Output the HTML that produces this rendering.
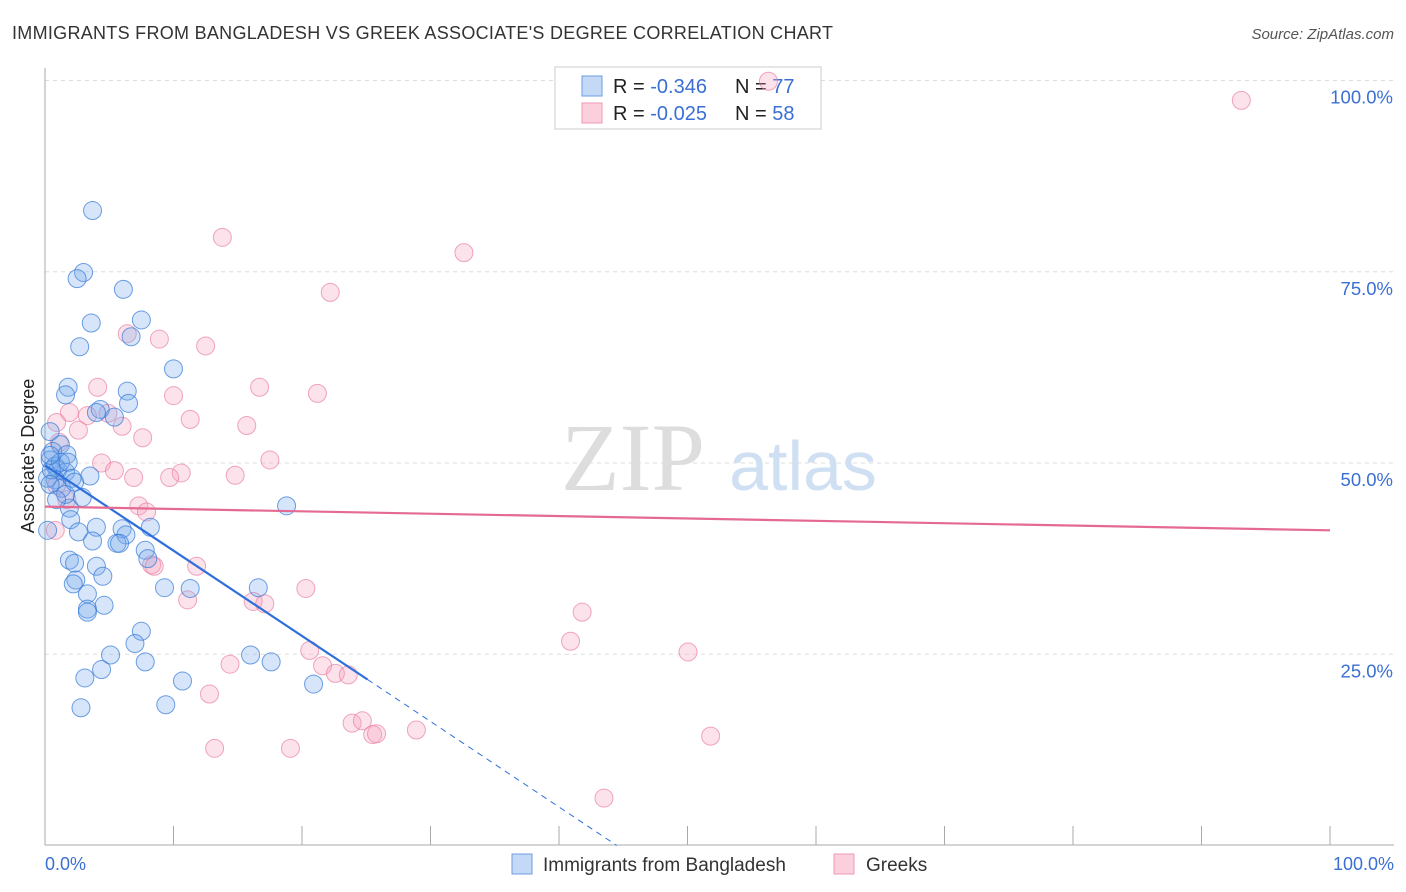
<!DOCTYPE html>
<html><head><meta charset="utf-8"><style>
body{margin:0;background:#fff;font-family:"Liberation Sans",sans-serif;}
svg{display:block}
</style></head><body>
<svg id="c" width="1406" height="892">
<text x="12" y="39" font-size="18" fill="#333" textLength="821">IMMIGRANTS FROM BANGLADESH VS GREEK ASSOCIATE'S DEGREE CORRELATION CHART</text>
<text x="1394" y="39" font-size="15" fill="#555" text-anchor="end" font-style="italic">Source: ZipAtlas.com</text>
<g id="grid"></g>
<text x="633" y="490" font-size="96" fill="#ddd" font-family="Liberation Serif,serif" text-anchor="middle">ZIP</text>
<text x="803" y="490" font-size="70" fill="#cfe0f3" text-anchor="middle">atlas</text>
<line x1="45" y1="68" x2="45" y2="845" stroke="#aaa"/>
<line x1="45" y1="845" x2="1394" y2="845" stroke="#aaa"/>
<g id="ticks"></g>
<text x="45" y="870" font-size="18" fill="#3b6fd4">0.0%</text>
<text x="1394" y="870" font-size="18" fill="#3b6fd4" text-anchor="end">100.0%</text>
<text transform="translate(34,456) rotate(-90)" font-size="18" fill="#222" text-anchor="middle">Associate's Degree</text>
<g>
<rect x="555" y="67" width="266" height="62" fill="#fff" stroke="#ccc"/>
<rect x="582" y="76" width="20" height="20" fill="#c4d9f5" stroke="#6b9de3"/>
<rect x="582" y="103" width="20" height="20" fill="#fbd0dc" stroke="#ee9ab4"/>
<text x="613" y="93" font-size="20" fill="#222">R = <tspan fill="#3b6fd4">-0.346</tspan><tspan x="735">N = </tspan><tspan fill="#3b6fd4">77</tspan></text>
<text x="613" y="120" font-size="20" fill="#222">R = <tspan fill="#3b6fd4">-0.025</tspan><tspan x="735">N = </tspan><tspan fill="#3b6fd4">58</tspan></text>
</g>
<g id="pts"></g>
<g id="trends"></g>
<g>
<rect x="512" y="854" width="20" height="20" fill="#c4d9f5" stroke="#6b9de3"/>
<text x="543" y="871" font-size="19" fill="#333">Immigrants from Bangladesh</text>
<rect x="834" y="854" width="20" height="20" fill="#fbd0dc" stroke="#ee9ab4"/>
<text x="866" y="871" font-size="19" fill="#333">Greeks</text>
</g>
</svg>
<script>
const yTicks=[25,50,75,100];
const yTickLabels=["25.0%","50.0%","75.0%","100.0%"];
const xTicks=[10,20,30,40,50,60,70,80,90,100];
const blueX=[3.7,3,2.5,6.1,3.6,7.5,2.7,6.7,10,1.8,1.6,6.4,6.5,4.3,5.4,4,0.4,1.2,0.6,0.4,0.8,1.7,1,1.6,3.5,0.8,1.3,2.9,1.9,2,0.2,2.6,4,3.7,6,6.3,8.2,5.6,5.8,7.8,8,18.8,1.9,2.3,4,2.4,4.5,2.2,3.3,4.6,3.3,3.3,9.3,11.3,16.6,7.5,7,5.1,4.4,7.8,16,17.6,3.1,10.7,20.9,2.8,9.4,0.2,0.5,1.2,0.4,1.6,1.8,0.4,2.1,0.9,2.3];
const blueY=[83,74.9,74.1,72.7,68.3,68.7,65.2,66.5,62.3,59.9,58.9,59.4,57.8,57,56,56.6,54.1,52.4,51.5,50.4,49.6,51.1,49.1,48.8,48.3,47.8,46.7,45.5,44.1,42.6,41.2,41,41.6,39.8,41.4,40.6,41.6,39.5,39.5,38.6,37.5,44.4,37.3,36.9,36.5,34.7,35.2,34.2,32.9,31.4,30.9,30.5,33.7,33.6,33.7,28,26.4,24.9,23,24,24.9,24,21.9,21.5,21.1,18,18.4,48,49.1,50.1,47.2,45.9,50.1,51,48,45.2,47.5];
const pinkX=[56.3,93.1,13.8,32.6,22.2,6.4,8.9,12.5,16.7,4.1,21.2,10,1.9,3.3,4.9,0.9,11.3,6,15.7,2.6,7.6,1.1,17.5,4.4,5.4,6.9,10.6,9.7,14.8,0.9,1.7,7.3,7.9,0.8,8.3,8.5,11.8,11.1,16.2,17.1,20.3,41.8,40.9,50.04,20.6,21.6,14.4,22.6,23.6,12.8,23.9,24.7,25.5,25.8,28.9,13.2,19.1,51.8,43.5];
const pinkY=[99.9,97.4,79.5,77.5,72.3,66.9,66.2,65.3,59.9,59.9,59.1,58.8,56.6,56.2,56.5,55.3,55.7,54.8,54.9,54.3,53.3,52.7,50.4,50,49,48.1,48.7,48.1,48.4,47.1,45.2,44.4,43.6,41.2,36.7,36.5,36.5,32.1,31.9,31.6,33.6,30.5,26.7,25.3,25.5,23.5,23.7,22.5,22.3,19.8,16,16.3,14.5,14.6,15.1,12.7,12.7,14.3,6.2];
const blueTrend=[[0,49.7],[25.1,21.7]];
const blueDash=[[25.1,21.7],[44.5,0]];
const pinkTrend=[[0,44.3],[100,41.2]];
const NS="http://www.w3.org/2000/svg";
function sx(v){return 45+v*12.85;}
function sy(v){return 845.5-v*7.65;}
function mk(t,a,p){const e=document.createElementNS(NS,t);for(const k in a)e.setAttribute(k,a[k]);document.getElementById(p).appendChild(e);return e;}
yTicks.forEach((v,i)=>{
 const l=mk('line',{x1:45,x2:1394,y1:sy(v),y2:sy(v),stroke:'#ddd','stroke-dasharray':'4,4'},'grid');
 
 
 const t=mk('text',{x:1393,y:sy(v)+23,'font-size':18.5,fill:'#3b6fd4','text-anchor':'end'},'grid');
 t.textContent=yTickLabels[i];
 
 
});
xTicks.forEach(v=>{
 const l=mk('line',{x1:sx(v),x2:sx(v),y1:826,y2:845,stroke:'#aaa'},'ticks');
 
 
});
pinkX.forEach((x,i)=>{
 const c=mk('circle',{cx:sx(x),cy:sy(pinkY[i]),r:9,fill:'rgba(246,160,188,0.3)',stroke:'rgba(232,120,156,0.65)','stroke-width':1},'pts');
 
 
});
blueX.forEach((x,i)=>{
 const c=mk('circle',{cx:sx(x),cy:sy(blueY[i]),r:9,fill:'rgba(120,170,235,0.3)',stroke:'rgba(50,120,215,0.7)','stroke-width':1},'pts');
 
 
});
let l1=mk('line',{x1:sx(blueTrend[0][0]),y1:sy(blueTrend[0][1]),x2:sx(blueTrend[1][0]),y2:sy(blueTrend[1][1]),stroke:'#2f6fdb','stroke-width':2.2},'trends');


let l2=mk('line',{x1:sx(blueDash[0][0]),y1:sy(blueDash[0][1]),x2:sx(blueDash[1][0]),y2:sy(blueDash[1][1]),stroke:'#2f6fdb','stroke-width':1,'stroke-dasharray':'6,5'},'trends');


let l3=mk('line',{x1:sx(pinkTrend[0][0]),y1:sy(pinkTrend[0][1]),x2:sx(pinkTrend[1][0]),y2:sy(pinkTrend[1][1]),stroke:'#e56a92','stroke-width':2.2},'trends');


</script>
</body></html>
